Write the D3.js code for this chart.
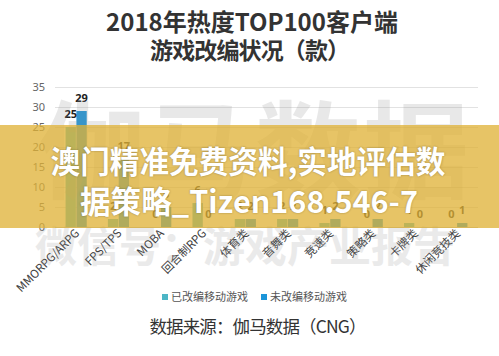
<!DOCTYPE html>
<html><head><meta charset="utf-8">
<script src="https://cdn.jsdelivr.net/npm/d3@7"></script>
<style>
body{margin:0;background:#fff;}
svg{display:block;font-family:"Noto Sans CJK SC","Noto Sans",sans-serif;}
</style></head>
<body>
<script>
const categories = ["MMORPG/ARPG","FPS/TPS","MOBA","回合制RPG","体育类","音舞类","竞速类","策略类","卡牌类","休闲竞技类"];
const seriesNames = ["已改编移动游戏","未改编移动游戏"];
const adapted = [25, 2, 0, 6, 2, 2, 1, 0, 1, 0];
const notAdapted = [29, 17, 5, 0, 2, 2, 2, 2, 0, 1];
const yTicks = [0,5,10,15,20,25,30,35];
const colors = ["#4cb6c6","#1b95d9"];

const W=499,H=356;
const svg=d3.select("body").append("svg").attr("width",W).attr("height",H);
svg.append("rect").attr("width",W).attr("height",H).attr("fill","#fff");

// title
svg.append("text").attr("x",252).attr("y",31).attr("text-anchor","middle")
  .attr("font-size",24).attr("font-weight","bold").attr("fill","#333").text("2018年热度TOP100客户端");
svg.append("text").attr("x",250).attr("y",59).attr("text-anchor","middle")
  .attr("font-size",23).attr("font-weight","bold").attr("fill","#333")
  .attr("textLength",200).attr("lengthAdjust","spacing").text("游戏改编状况（款）");

const x0=d3.scaleBand().domain(categories).range([55,478]).paddingInner(0.5).paddingOuter(0.25);
const x1=d3.scaleBand().domain(seriesNames).range([0,x0.bandwidth()]).paddingInner(0.05);
const y=d3.scaleLinear().domain([0,35]).range([227,87]);

// grid
svg.append("g").selectAll("line").data(yTicks).join("line")
  .attr("x1",55).attr("x2",478).attr("y1",d=>y(d)+0.5).attr("y2",d=>y(d)+0.5)
  .attr("stroke",d=>d===0?"#c8c8c8":"#e2e2e2").attr("stroke-width",1);

const yAxis=d3.axisLeft(y).tickValues(yTicks).tickSize(0).tickPadding(0);
const gy=svg.append("g").attr("transform","translate(45,0)").call(yAxis);
gy.select(".domain").remove();
gy.selectAll("text").attr("font-size",11).attr("fill","#666").attr("font-family","'Noto Sans','Open Sans',sans-serif");

const data=categories.map((c,i)=>({c,vals:[adapted[i],notAdapted[i]]}));
const groups=svg.append("g").selectAll("g").data(data).join("g")
  .attr("transform",d=>`translate(${x0(d.c)},0)`);
groups.selectAll("rect").data(d=>d.vals.map((v,j)=>({v,s:seriesNames[j],j}))).join("rect")
  .attr("x",d=>x1(d.s)).attr("width",x1.bandwidth())
  .attr("y",d=>y(d.v)).attr("height",d=>y(0)-y(d.v)).attr("fill",d=>colors[d.j]);
groups.selectAll("text").data(d=>d.vals.map((v,j)=>({v,s:seriesNames[j],j}))).join("text")
  .attr("x",d=>x1(d.s)+x1.bandwidth()/2).attr("y",d=>y(d.v)-9)
  .attr("text-anchor","middle").attr("font-size",11).attr("font-weight","bold")
  .attr("fill","#222").attr("font-family","'Noto Sans','Open Sans',sans-serif").text(d=>d.v);

// x labels
svg.append("g").selectAll("text").data(categories).join("text")
  .attr("transform",d=>`translate(${x0(d)+x0.bandwidth()/2+4},234) rotate(-45)`)
  .attr("text-anchor","end").attr("font-size",11.5).attr("fill","#404040").text(d=>d);

// legend
const lg=svg.append("g");
const lx=[162,261];
seriesNames.forEach((s,i)=>{
  lg.append("rect").attr("x",lx[i]).attr("y",294).attr("width",6).attr("height",6).attr("fill",colors[i]);
  lg.append("text").attr("x",lx[i]+9).attr("y",301).attr("font-size",11).attr("fill","#555").text(s);
});

// source
svg.append("text").attr("x",258).attr("y",333).attr("text-anchor","middle")
  .attr("font-size",17.5).attr("fill","#333").attr("textLength",217).attr("lengthAdjust","spacing")
  .text("数据来源：伽马数据（CNG）");

// watermarks
svg.append("text").attr("x",255).attr("y",190).attr("text-anchor","middle")
  .attr("font-size",106).attr("font-weight","bold").attr("fill","#999").attr("opacity",0.22)
  .attr("letter-spacing",2).text("伽马数据");
svg.append("text").attr("x",245).attr("y",262).attr("text-anchor","middle")
  .attr("font-size",42).attr("font-weight","bold").attr("fill","#999").attr("opacity",0.2)
  .text("微信号：游戏产业报告");

// overlay band
svg.append("rect").attr("x",0).attr("y",125).attr("width",W).attr("height",103)
  .attr("fill","#dfb236").attr("opacity",0.76);
const ov=svg.append("g").attr("fill","#fff").attr("font-weight","bold").attr("font-size",31)
  .attr("text-anchor","middle").style("text-shadow","0 0 2px rgba(0,0,0,0.35)");
ov.append("text").attr("x",248).attr("y",173)
  .attr("textLength",395).attr("lengthAdjust","spacingAndGlyphs").text("澳门精准免费资料,实地评估数");
ov.append("text").attr("x",249).attr("y",213)
  .attr("textLength",338).attr("lengthAdjust","spacingAndGlyphs").text("据策略_Tizen168.546-7");
</script>
</body></html>
